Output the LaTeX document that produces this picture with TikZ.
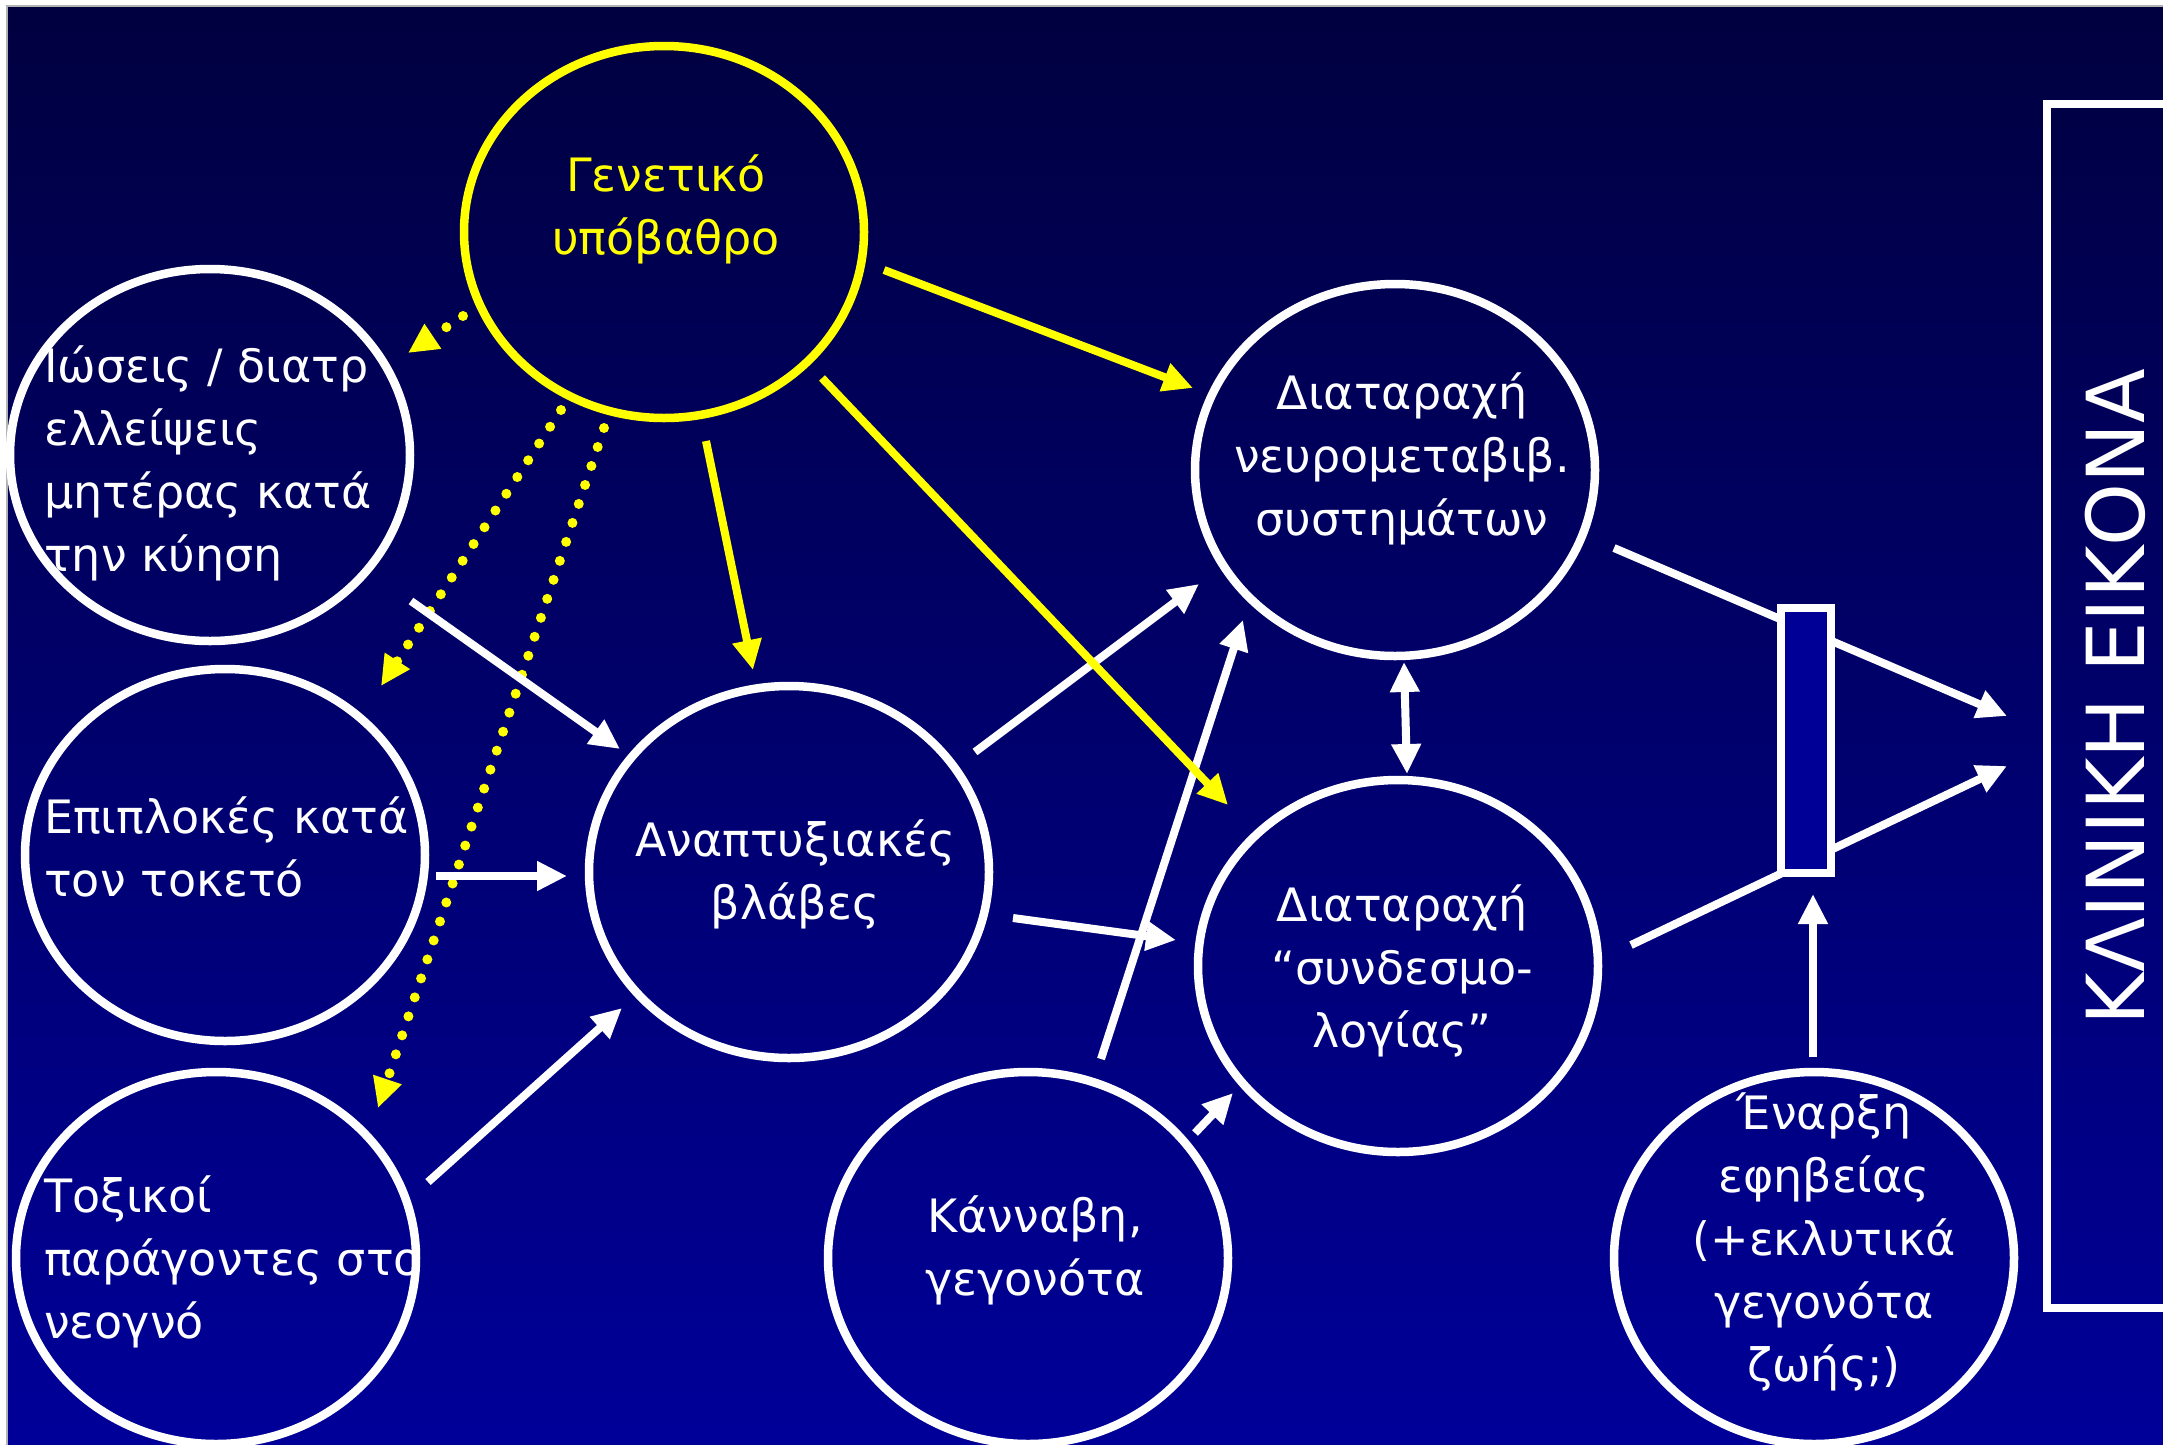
\documentclass[tikz,border=0pt]{standalone}
\usepackage{fontspec}
\setmainfont{DejaVu Sans}
\usetikzlibrary{arrows.meta,shapes.geometric}
\definecolor{bgtop}{RGB}{0,0,64}
\definecolor{bgbot}{RGB}{0,0,153}
\definecolor{gatefill}{RGB}{0,0,150}
\definecolor{ylw}{RGB}{255,255,0}
\begin{document}
\begin{tikzpicture}[x=1pt,y=-1pt,
  blob/.style={ellipse, draw=white, line width=8.5pt, minimum width=400pt, minimum height=372pt, inner sep=0pt},
  gblob/.style={blob, draw=ylw},
  lbl/.style={text=white, font=\fontsize{46}{63}\selectfont, inner sep=0pt},
  lblL/.style={lbl, align=left, anchor=west},
  lblC/.style={lbl, align=center},
  headtip/.style={-{Triangle[length=30pt,width=28pt]}},
  warr/.style={draw=white, line width=8pt, headtip},
  yarr/.style={draw=ylw, line width=8pt, headtip},
  ydot/.style={draw=ylw, line width=10pt, line cap=round, dash pattern=on 0pt off 20pt, headtip},
]
\useasboundingbox (0,0) rectangle (2163,1444);
\fill[white] (0,0) rectangle (2163,1444);
\shade[top color=bgtop, bottom color=bgbot, draw=gray!60, line width=1.5pt] (7,6) rectangle (2170,1450);

% ellipses
\node[gblob] (gen) at (664,232) {};
\node[blob] (ios) at (210,455) {};
\node[blob] (epi) at (225,855) {};
\node[blob] (tox) at (216,1258) {};
\node[blob] (anap) at (789,872) {};
\node[blob] (neuro) at (1395,470) {};
\node[blob] (synd) at (1398,966) {};
\node[blob] (kann) at (1028,1258) {};
\node[blob] (enar) at (1814,1258) {};

% clinical picture frame
\node[draw=white, line width=8pt, minimum width=300pt, minimum height=1204pt, inner sep=0pt, anchor=north west] (clin) at (2043,100) {};

% connector end points
\coordinate (gA) at (884,270);   \coordinate (gB) at (1193,388);
\coordinate (gC) at (706,441);   \coordinate (gD) at (753,670);
\coordinate (gE) at (822,378);   \coordinate (gF) at (1228,805);
\coordinate (dA) at (463,316);   \coordinate (dB) at (408,353);
\coordinate (eA) at (561,410);   \coordinate (eB) at (381,686);
\coordinate (fA) at (604,428);   \coordinate (fB) at (378,1108);
\coordinate (iosA) at (411,601); \coordinate (iosB) at (620,749);
\coordinate (epiA) at (436,876); \coordinate (epiB) at (567,876);
\coordinate (toxA) at (428,1182);\coordinate (toxB) at (622,1008);
\coordinate (anA) at (975,752);  \coordinate (anB) at (1199,584);
\coordinate (anC) at (1013,918); \coordinate (anD) at (1176,940);
\coordinate (kaA) at (1101,1059);\coordinate (kaB) at (1243,620);
\coordinate (kaC) at (1195,1133);\coordinate (kaD) at (1233,1093);
\coordinate (nuA) at (1404,662); \coordinate (nuB) at (1407,774);
\coordinate (nuC) at (1614,548); \coordinate (nuD) at (2007,716);
\coordinate (syA) at (1631,945); \coordinate (syB) at (2007,766);
\coordinate (enA) at (1813,1057);\coordinate (enB) at (1813,894);

% yellow arrows
\draw[yarr] (gA) -- (gB);
\draw[yarr] (gC) -- (gD);
\draw[ydot] (dA) -- (dB);
\draw[ydot] (eA) -- (eB);
\draw[ydot] (fA) -- (fB);

% white arrows
\draw[warr] (iosA) -- (iosB);
\draw[warr] (epiA) -- (epiB);
\draw[warr] (toxA) -- (toxB);
\draw[warr] (anA) -- (anB);
\draw[warr] (anC) -- (anD);
\draw[warr] (kaA) -- (kaB);
\draw[warr] (kaC) -- (kaD);
\draw[yarr] (gE) -- (gF);
\draw[draw=white, line width=8pt, {Triangle[length=30pt,width=28pt]}-{Triangle[length=30pt,width=28pt]}] (nuA) -- (nuB);
\draw[warr] (nuC) -- (nuD);
\draw[warr] (syA) -- (syB);
\draw[warr] (enA) -- (enB);

% gate rectangle
\node[draw=white, fill=gatefill, line width=8pt, minimum width=50pt, minimum height=265pt, inner sep=0pt] (gate) at (1806,740) {};

% labels
\node[lblC, text=ylw] (tgen) at (666,209) {Γενετικό\\υπόβαθρο};
\node[lblL] (tios) at (44,463) {Ιώσεις / διατρ\\ελλείψεις\\μητέρας κατά\\την κύηση};
\node[lblL] (tepi) at (44,847) {Επιπλοκές κατά\\τον τοκετό};
\node[lblL] (ttox) at (44,1262) {Τοξικοί\\παράγοντες στο\\νεογνό};
\node[lblC] (tanap) at (795,874) {Αναπτυξιακές\\βλάβες};
\node[lblC] (tneuro) at (1402,459) {Διαταραχή\\νευρομεταβιβ.\\συστημάτων};
\node[lblC] (tsynd) at (1402,971) {Διαταραχή\\“συνδεσμο-\\λογίας”};
\node[lblC] (tkann) at (1035,1250) {Κάνναβη,\\γεγονότα};
\node[lblC] (tenar) at (1824,1242) {Έναρξη\\εφηβείας\\(+εκλυτικά\\γεγονότα\\ζωής;)};
\node[text=white, font=\fontsize{80}{90}\selectfont, inner sep=0pt, rotate=90] (tclin) at (2115,697) {ΚΛΙΝΙΚΗ ΕΙΚΟΝΑ};
\end{tikzpicture}
\end{document}
